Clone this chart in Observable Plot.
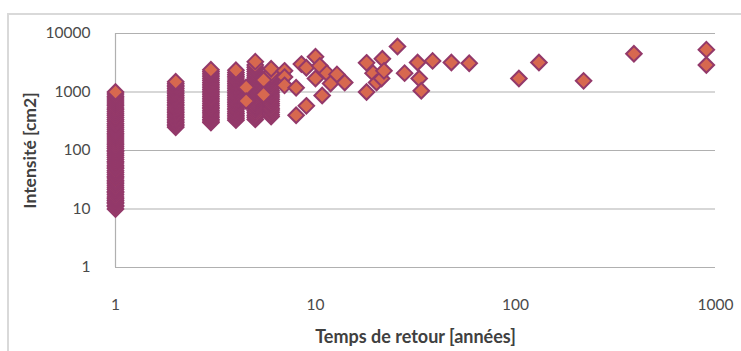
<!DOCTYPE html>
<html><head><meta charset="utf-8">
<script src="https://cdn.jsdelivr.net/npm/d3@7"></script>
<script src="https://cdn.jsdelivr.net/npm/@observablehq/plot@0.6"></script>
<style>
html,body{margin:0;padding:0;background:#fff;}
#wrap{position:relative;width:741px;height:351px;overflow:hidden;background:#fff;}
#border{position:absolute;left:7px;top:13px;width:760px;height:400px;border:2px solid #d9d9d9;box-sizing:border-box;}
#chart{position:absolute;left:0;top:0;}
</style></head><body>
<div id="wrap"><div id="border"></div><div id="chart"></div></div>
<script>
// Tick labels
const xTicks = [1, 10, 100, 1000];
const yTicks = [1, 10, 100, 1000, 10000];
const xTitle = "Temps de retour [années]";
const yTitle = "Intensité [cm2]";

// Dense columns (return period, intensities)
const col1 = [10, 11, 11.5, 12.5, 13, 14, 15, 16, 17.5, 19, 20, 21.5, 23, 25, 27, 29, 31, 34, 36, 39, 42, 45, 49, 52, 56, 61, 65, 70, 76, 82, 88, 95, 100, 108, 116, 125, 135, 146, 158, 170, 184, 198, 214, 231, 250, 270, 290, 315, 340, 365, 395, 425, 460, 495, 535, 580, 625, 675, 730, 790, 850, 920, 1000];
const col2 = [250, 265, 280, 300, 320, 340, 365, 390, 415, 445, 475, 505, 540, 580, 620, 660, 710, 760, 810, 870, 930, 1000, 1070, 1150, 1230, 1310, 1400, 1500];
const col3 = [300, 320, 340, 365, 390, 420, 450, 480, 515, 550, 590, 630, 680, 730, 780, 840, 900, 960, 1030, 1100, 1180, 1270, 1360, 1460, 1570, 1690, 1820, 1960, 2100, 2250, 2400];
const col4 = [330, 350, 375, 400, 430, 460, 495, 530, 570, 610, 655, 700, 750, 800, 860, 920, 990, 1060, 1140, 1220, 1310, 1400, 1500, 1610, 1730, 1860, 2000, 2150, 2350];
const col5 = [340, 370, 400, 440, 480, 520, 560, 610, 660, 720, 780, 850, 920, 1000, 1080, 1170, 1270, 1380, 1500, 1620, 1760, 1900, 2060, 2240, 2430, 2650, 2900, 3300];
const col6 = [380, 410, 450, 490, 530, 580, 630, 690, 750, 820, 890, 970, 1050, 1150, 1250, 1360, 1480, 1610, 1750, 1900, 2100, 2500];
const colX = [1, 2, 3, 4, 5, 6];
const colVals = [col1, col2, col3, col4, col5, col6];

// Scattered points
const scatX = [4.5, 4.5, 5.5, 5.5, 7, 7, 7, 8.5, 8, 8, 9, 9, 10, 10, 10.5, 10.8, 11.4, 11.9, 12.8, 14, 18, 18, 19.4, 20.2, 21.4, 21.6, 22, 25.7, 27.9, 32.4, 33, 33.8, 38.5, 47.8, 58.7, 104, 131, 219, 391, 900, 900];
const scatV = [1200, 700, 1600, 900, 2300, 1800, 1300, 3000, 1180, 400, 2600, 580, 4000, 1700, 2800, 870, 2100, 1400, 2000, 1450, 3150, 1000, 2100, 1450, 1700, 3700, 2300, 6000, 2100, 3200, 1700, 1050, 3400, 3200, 3100, 1700, 3200, 1550, 4500, 5300, 2900];

const points = [];
colX.forEach((x, i) => colVals[i].forEach(v => points.push({x, v})));
scatX.forEach((x, i) => points.push({x, v: scatV[i]}));

const chart = Plot.plot({
  width: 741, height: 351,
  marginLeft: 115, marginRight: 26, marginTop: 33, marginBottom: 84,
  style: {fontFamily: "Lato, 'Open Sans', sans-serif", fontSize: "15.5px", color: "#4a4a4a", background: "transparent", overflow: "visible"},
  x: {type: "log", domain: [1, 1000]},
  y: {type: "log", domain: [1, 10000]},
  marks: [
    Plot.gridY(yTicks, {stroke: "#b0b0b0", strokeOpacity: 1, strokeWidth: 1.2}),
    Plot.ruleX([1], {stroke: "#b0b0b0", strokeWidth: 1.2}),
    Plot.axisX(xTicks, {tickSize: 0, tickPadding: 31, tickFormat: d => String(d), label: null}),
    Plot.axisY(yTicks, {tickSize: 0, tickPadding: 25, tickFormat: d => String(d), label: null}),
    Plot.dot(points, {x: "x", y: "v", symbol: "diamond2", r: 7, fill: "#d7684f", stroke: "#93396a", strokeWidth: 2}),
    Plot.text([xTitle], {text: d => d, frameAnchor: "bottom", dy: 70, fontWeight: "bold", fontSize: 18, fill: "#404040", lineAnchor: "middle"}),
    Plot.text([yTitle], {text: d => d, frameAnchor: "left", dx: -85, rotate: -90, fontWeight: "bold", fontSize: 17.5, fill: "#404040", lineAnchor: "middle", textAnchor: "middle"})
  ]
});
document.getElementById("chart").appendChild(chart);
</script></body></html>
